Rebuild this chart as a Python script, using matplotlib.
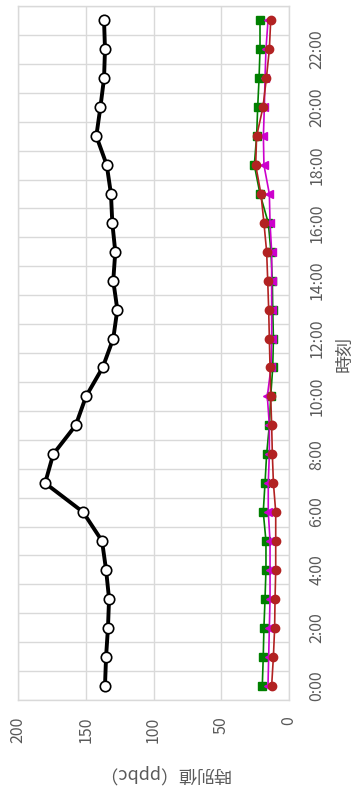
import numpy as np
import matplotlib
matplotlib.use("Agg")
import matplotlib.pyplot as plt

plt.rcParams['font.family'] = ['Noto Sans CJK JP', 'DejaVu Sans']

hours = list(range(24))
hour_labels = ['%d:00' % h for h in range(0, 24, 2)]

# hourly values (ppbC)
total = [135.8, 135.0, 133.6, 132.8, 135.0, 138.0, 152.0, 180.0, 174.0, 157.4,
         149.8, 137.5, 129.7, 126.7, 129.7, 128.2, 130.4, 131.4, 134.5, 142.2,
         139.2, 136.5, 135.8, 136.5]
green_series = [19.7, 19.0, 18.5, 17.7, 17.0, 17.0, 19.0, 17.7, 16.5, 14.5,
                13.5, 12.0, 11.5, 12.0, 12.3, 13.3, 15.3, 21.4, 25.6, 23.9,
                23.1, 22.1, 21.4, 21.4]
magenta_series = [15.5, 15.0, 14.5, 14.0, 14.0, 14.0, 15.3, 15.3, 14.5, 14.5,
                  16.0, 13.3, 12.8, 12.8, 12.8, 12.8, 14.0, 14.5, 18.5, 18.9,
                  18.2, 17.7, 17.0, 15.5]
red_series = [12.8, 11.5, 10.6, 10.3, 9.8, 9.8, 9.8, 11.5, 12.3, 12.8,
              13.5, 14.0, 14.5, 15.0, 15.7, 16.5, 18.5, 20.7, 24.6, 23.9,
              19.2, 16.7, 14.5, 13.5]

grid_col = '#d9d9d9'
text_col = '#595959'

fig = plt.figure(figsize=(3.55, 7.91), dpi=100)
ax = fig.add_axes([18/355, 91/791, 271/355, 694/791])

ax.plot(green_series, hours, color='#008000', lw=1.2, marker='s', ms=5.5, zorder=3)
ax.plot(magenta_series, hours, color='#cc00cc', lw=1.2, marker='<', ms=5.5, zorder=4)
ax.plot(red_series, hours, color='#b22222', lw=1.2, marker='o', ms=6, zorder=5)
ax.plot(total, hours, color='black', lw=2.8, marker='o', ms=7.5,
        markerfacecolor='white', markeredgecolor='black', markeredgewidth=1.2, zorder=6)

ax.set_xlim(200, 0)
ax.set_ylim(-0.5, 23.5)
ax.set_xticks([0, 50, 100, 150, 200])
ax.set_xticklabels(['0', '50', '100', '150', '200'], rotation=90)
ax.set_yticks(range(0, 24, 2))
ax.set_yticklabels(hour_labels, rotation=90, va='center')
ax.set_yticks(np.arange(-0.5, 24, 1), minor=True)
ax.yaxis.tick_right()

ax.tick_params(axis='x', length=0, pad=12, labelsize=11.5, labelcolor=text_col)
ax.tick_params(axis='y', which='both', length=0, pad=14, labelsize=11.5, labelcolor=text_col)

ax.grid(True, axis='x', color=grid_col, lw=1)
ax.grid(True, axis='y', which='minor', color=grid_col, lw=1)
for s in ax.spines.values():
    s.set_color(grid_col)
    s.set_linewidth(1)

fig.text(345/355, 1 - 354/791, '時刻', rotation=90, ha='center', va='center',
         fontsize=13, color=text_col)
fig.text(163/355, 1 - 774/791, '時別値（ppbc）', rotation=180, ha='center', va='center',
         fontsize=13, color=text_col)

fig.savefig('out.png', dpi=100)
